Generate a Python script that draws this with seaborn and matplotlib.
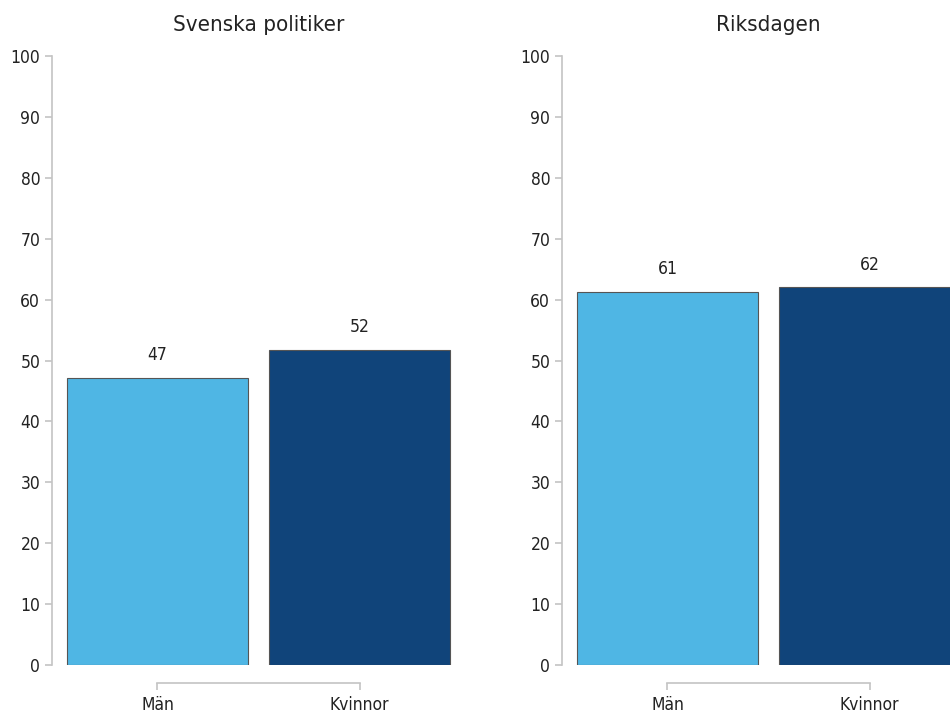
import pandas as pd
import seaborn as sns
import matplotlib.pyplot as plt
from matplotlib import font_manager

sns.set_style("ticks")

# pick a narrow font if there is one
names = {f.name for f in font_manager.fontManager.ttflist}
if 'Liberation Sans Narrow' in names:
    plt.rcParams['font.family'] = ['Liberation Sans Narrow', 'DejaVu Sans']
else:
    plt.rcParams['font.family'] = ['DejaVu Sans']
    plt.rcParams['font.stretch'] = 'condensed'

panels = ['Svenska politiker', 'Riksdagen']
groups = ['Män', 'Kvinnor']
politiker = [47.2, 51.8]
riksdagen = [61.3, 62.0]

df = pd.DataFrame({
    'Panel': [panels[0]] * 2 + [panels[1]] * 2,
    'Kön': groups * 2,
    'Andel': politiker + riksdagen,
})
palette = {'Män': '#4fb6e4', 'Kvinnor': '#10447a'}
grey = '#c4c4c4'
textc = '#222222'

fig = plt.figure(figsize=(9.5, 7.13), dpi=100)
lefts = [52 / 950, 562 / 950]
for panel, left in zip(panels, lefts):
    ax = fig.add_axes([left, 48 / 713, 413 / 950, 609 / 713])
    sub = df[df['Panel'] == panel]
    sns.barplot(data=sub, x='Kön', y='Andel', hue='Kön', palette=palette,
                order=groups, hue_order=groups, width=0.896, legend=False,
                edgecolor='#555555', linewidth=0.8, saturation=1, ax=ax)
    for c in ax.containers:
        ax.bar_label(c, fmt='%.0f', padding=10, fontsize=12.5, color=textc)
    ax.set_xlim(-0.522, 1.522)
    ax.set_ylim(0, 100)
    ax.set_yticks(range(0, 101, 10))
    ax.set_xlabel('')
    ax.set_ylabel('')
    ax.set_title(panel, fontsize=16, color=textc, pad=18)
    sns.despine(ax=ax)
    ax.spines['left'].set_color(grey)
    ax.spines['bottom'].set_color(grey)
    ax.spines['left'].set_linewidth(1.2)
    ax.spines['bottom'].set_linewidth(1.2)
    ax.spines['bottom'].set_position(('outward', 13))
    ax.spines['bottom'].set_bounds(0, 1)
    ax.tick_params(axis='both', direction='out', length=5, width=1.2,
                   color=grey, labelcolor=textc, labelsize=12.5,
                   bottom=True, left=True)
    ax.tick_params(axis='x', pad=4)

fig.savefig('out.png', dpi=100)
